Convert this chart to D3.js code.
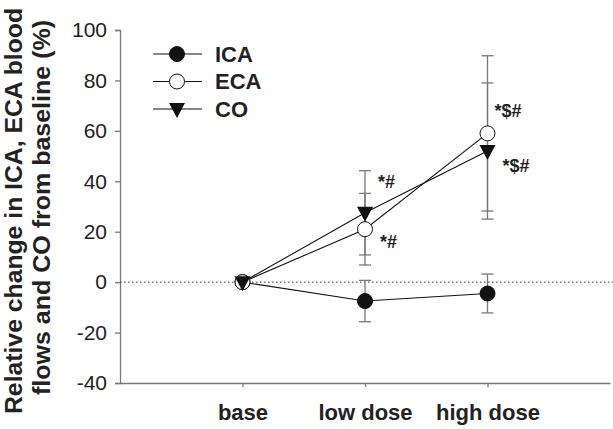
<!DOCTYPE html>
<html><head><meta charset="utf-8">
<script src="https://cdn.jsdelivr.net/npm/d3@7"></script>
<style>body{margin:0;background:#fff}svg{display:block}text{font-family:"Liberation Sans",Arial,sans-serif}</style>
</head><body><svg id="c" width="613" height="429"></svg>
<script>
const categories = ["base", "low dose", "high dose"];
const icaMean = [0, -7.5, -4.5];
const icaSD = [0, 8.2, 7.7];
const ecaMean = [0, 21, 59];
const ecaSD = [0, 14.2, 30.8];
const coMean = [0, 27.5, 52];
const coSD = [0, 16.7, 27];
const yTicks = [-40, -20, 0, 20, 40, 60, 80, 100];
const yTitleLines = ["Relative change in ICA, ECA blood", "flows and CO from baseline (%)"];
const annotations = [
  {text: "*#", cat: "low dose", value: 40, dx: 13},
  {text: "*#", cat: "low dose", value: 16, dx: 15},
  {text: "*$#", cat: "high dose", value: 68, dx: 7},
  {text: "*$#", cat: "high dose", value: 46, dx: 15}
];
const series = [
  {name: "ICA", mean: icaMean, sd: icaSD, shape: "filled"},
  {name: "ECA", mean: ecaMean, sd: ecaSD, shape: "open"},
  {name: "CO", mean: coMean, sd: coSD, shape: "tri"}
];

const svg = d3.select("#c");
const L = 120, R = 610, T = 30, B = 383;
const x = d3.scalePoint().domain(categories).range([L, R]).padding(1);
const y = d3.scaleLinear().domain([-40, 100]).range([B, T]);
const axisCol = "#777";
const txtCol = "#222";
const FF = "Liberation Sans, Arial, sans-serif";

// axes
const ga = svg.append("g").attr("transform", `translate(${L},0)`)
  .call(d3.axisLeft(y).tickValues(yTicks).tickSize(5).tickPadding(8).tickFormat(d => String(d)));
ga.select(".domain").attr("stroke", axisCol).attr("stroke-width", 1.3);
ga.selectAll(".tick line").attr("stroke", axisCol).attr("stroke-width", 1.3);
ga.selectAll(".tick text").attr("font-size", 21).attr("fill", txtCol).attr("font-family", FF);

const gb = svg.append("g").attr("transform", `translate(0,${B})`)
  .call(d3.axisBottom(x).tickSize(4).tickPadding(17).tickSizeOuter(0));
gb.select(".domain").attr("stroke", axisCol).attr("stroke-width", 1.3);
gb.selectAll(".tick line").attr("stroke", axisCol).attr("stroke-width", 1.3);
gb.selectAll(".tick text").attr("font-size", 22).attr("font-weight", "bold").attr("fill", txtCol).attr("font-family", FF);

// zero line
svg.append("line").attr("x1", L).attr("x2", 613).attr("y1", y(0)).attr("y2", y(0))
  .attr("stroke", "#333").attr("stroke-width", 1).attr("stroke-dasharray", "1.5,2.5");

// y title (two lines)
const titleGeom = [{cx: 14, cy: 211, len: 406}, {cx: 42, cy: 207.5, len: 375}];
yTitleLines.forEach((t, i) => {
  const gm = titleGeom[i];
  svg.append("text").attr("transform", `translate(${gm.cx},${gm.cy}) rotate(-90)`)
    .attr("text-anchor", "middle").attr("dy", "0.35em").attr("font-size", 24).attr("font-weight", "bold")
    .attr("fill", txtCol).attr("textLength", gm.len).attr("lengthAdjust", "spacingAndGlyphs").text(t);
});

// error bars
const capW = 6;
series.forEach(s => {
  const g = svg.append("g");
  categories.forEach((c, i) => {
    if (s.sd[i] <= 0) return;
    const cx = x(c), y1 = y(s.mean[i] + s.sd[i]), y2 = y(s.mean[i] - s.sd[i]);
    g.append("line").attr("x1", cx).attr("x2", cx).attr("y1", y1).attr("y2", y2).attr("stroke", axisCol).attr("stroke-width", 1.3);
    [y1, y2].forEach(yy => g.append("line").attr("x1", cx - capW).attr("x2", cx + capW).attr("y1", yy).attr("y2", yy).attr("stroke", axisCol).attr("stroke-width", 1.3));
  });
});

// lines
const line = d3.line().x((d, i) => x(categories[i])).y(d => y(d));
series.forEach(s => {
  svg.append("path").attr("d", line(s.mean)).attr("fill", "none").attr("stroke", "#111").attr("stroke-width", 1.1);
});

function marker(g, shape, cx, cy) {
  if (shape === "tri") {
    g.append("path").attr("d", `M${cx-8},${cy-6} L${cx+8},${cy-6} L${cx},${cy+9} Z`).attr("fill", "#111");
  } else {
    g.append("circle").attr("cx", cx).attr("cy", cy).attr("r", 7.5)
      .attr("fill", shape === "filled" ? "#111" : "#fff").attr("stroke", "#111").attr("stroke-width", 1);
  }
}
series.forEach(s => {
  const g = svg.append("g");
  categories.forEach((c, i) => marker(g, s.shape, x(c), y(s.mean[i])));
});

// annotations
annotations.forEach(a => {
  svg.append("text").attr("x", x(a.cat) + a.dx).attr("y", y(a.value)).attr("dy", "0.35em")
    .attr("font-size", 18).attr("font-weight", "bold").attr("fill", txtCol).text(a.text);
});

// legend
const lg = svg.append("g");
series.forEach((s, i) => {
  const ly = 54 + i * 27.5;
  lg.append("line").attr("x1", 153).attr("x2", 202).attr("y1", ly).attr("y2", ly).attr("stroke", "#111").attr("stroke-width", 1.1);
  marker(lg, s.shape, 177, ly);
  lg.append("text").attr("x", 215).attr("y", ly).attr("dy", "0.36em").attr("font-size", 22).attr("font-weight", "bold").attr("fill", txtCol).text(s.name);
});
</script></body></html>
